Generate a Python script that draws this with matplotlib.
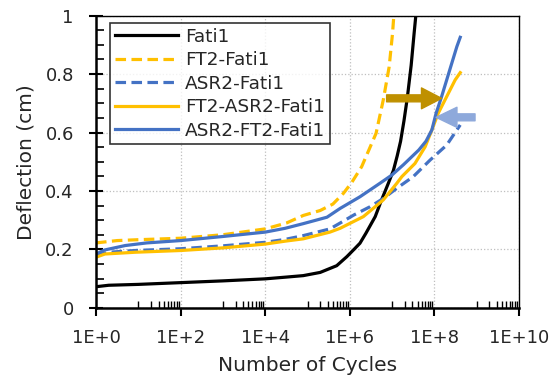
import numpy as np
import matplotlib
matplotlib.use("Agg")
import matplotlib.pyplot as plt
from matplotlib.ticker import FixedLocator, NullFormatter

plt.rcParams['font.family'] = ['DejaVu Sans']

# log10(number of cycles) and deflection (cm)
fati1_logn = [0, 0.3, 1, 2, 3, 4, 4.5, 4.9, 5.3, 5.69, 5.93, 6.1, 6.24, 6.38, 6.60, 6.75, 6.91, 7.03, 7.12, 7.20, 7.28, 7.36, 7.45, 7.52, 7.56]
fati1_def = [0.072, 0.077, 0.080, 0.086, 0.092, 0.099, 0.105, 0.110, 0.121, 0.144, 0.175, 0.200, 0.221, 0.255, 0.312, 0.369, 0.426, 0.470, 0.520, 0.570, 0.640, 0.720, 0.830, 0.940, 1.0]

ft2_logn = [0, 0.5, 1, 2, 3, 4, 4.5, 4.9, 5.3, 5.6, 5.85, 6.05, 6.28, 6.45, 6.62, 6.79, 6.93, 7.01, 7.04]
ft2_def = [0.222, 0.230, 0.233, 0.238, 0.250, 0.270, 0.290, 0.316, 0.333, 0.355, 0.392, 0.430, 0.483, 0.540, 0.597, 0.711, 0.825, 0.940, 1.0]

asr2_logn = [0, 0.3, 0.92, 2, 3, 4, 4.47, 4.9, 5.53, 5.77, 6.1, 6.48, 6.8, 7.11, 7.50, 7.90, 8.29, 8.61]
asr2_def = [0.179, 0.190, 0.196, 0.202, 0.212, 0.224, 0.234, 0.247, 0.270, 0.290, 0.318, 0.346, 0.375, 0.409, 0.449, 0.506, 0.557, 0.626]

ft2_asr2_logn = [0, 0.21, 0.92, 2, 3, 4, 4.47, 4.9, 5.53, 5.77, 6.32, 6.79, 7.11, 7.23, 7.54, 7.78, 7.94, 8.09, 8.29, 8.49, 8.61]
ft2_asr2_def = [0.173, 0.184, 0.190, 0.196, 0.205, 0.218, 0.228, 0.236, 0.259, 0.272, 0.312, 0.369, 0.426, 0.449, 0.494, 0.551, 0.609, 0.666, 0.723, 0.780, 0.805]

asr2_ft2_logn = [0, 0.21, 0.69, 1.2, 2, 3, 4, 4.47, 4.9, 5.46, 5.77, 6.24, 6.71, 7.0, 7.27, 7.63, 7.80, 7.94, 8.04, 8.17, 8.29, 8.41, 8.53, 8.61]
asr2_ft2_def = [0.184, 0.198, 0.213, 0.222, 0.230, 0.244, 0.259, 0.272, 0.288, 0.310, 0.340, 0.380, 0.426, 0.455, 0.490, 0.540, 0.570, 0.609, 0.666, 0.723, 0.780, 0.837, 0.894, 0.926]

x_ticks = [1e0, 1e2, 1e4, 1e6, 1e8, 1e10]
x_labels = ["1E+0", "1E+2", "1E+4", "1E+6", "1E+8", "1E+10"]
y_ticks = [0, 0.2, 0.4, 0.6, 0.8, 1.0]
y_labels = ["0", "0.2", "0.4", "0.6", "0.8", "1"]

BLACK = "black"
GOLD = "#FFC000"
BLUE = "#4472C4"
TEXT = "#262626"

fig = plt.figure(figsize=(5.56, 3.79), dpi=100)
ax = fig.add_axes([0.1727, 0.188, 0.7608, 0.7706])

dash = (0, (3.3, 1.7))
lw = 2.3
ax.plot(np.power(10.0, fati1_logn), fati1_def, color=BLACK, lw=lw, label="Fati1")
ax.plot(np.power(10.0, ft2_logn), ft2_def, color=GOLD, lw=lw, ls=dash, label="FT2-Fati1")
ax.plot(np.power(10.0, asr2_logn), asr2_def, color=BLUE, lw=lw, ls=dash, label="ASR2-Fati1")
ax.plot(np.power(10.0, ft2_asr2_logn), ft2_asr2_def, color=GOLD, lw=lw, label="FT2-ASR2-Fati1")
ax.plot(np.power(10.0, asr2_ft2_logn), asr2_ft2_def, color=BLUE, lw=lw, label="ASR2-FT2-Fati1")

# arrows
ax.annotate("", xy=(10**8.17, 0.717), xytext=(10**6.87, 0.717),
            arrowprops=dict(arrowstyle="simple,head_length=1.45,head_width=1.5,tail_width=0.5",
                            color="#BF9000", shrinkA=0, shrinkB=0, mutation_scale=10))
ax.annotate("", xy=(10**8.04, 0.652), xytext=(10**8.96, 0.652),
            arrowprops=dict(arrowstyle="simple,head_length=1.5,head_width=1.45,tail_width=0.5",
                            color="#8EA9DB", shrinkA=0, shrinkB=0, mutation_scale=10))

ax.set_xscale("log")
ax.set_xlim(1e0, 1e10)
ax.set_ylim(0, 1)

ax.xaxis.set_major_locator(FixedLocator(x_ticks))
ax.set_xticklabels(x_labels)
minor_x = [k * 10.0 ** d for d in (1, 3, 5, 7, 9) for k in range(1, 10)]
ax.xaxis.set_minor_locator(FixedLocator(minor_x))
ax.xaxis.set_minor_formatter(NullFormatter())
ax.set_yticks(y_ticks)
ax.set_yticklabels(y_labels)
ax.yaxis.set_minor_locator(FixedLocator(np.arange(0.05, 1.0, 0.05)))

ax.tick_params(axis="x", which="major", direction="out", length=6, width=1.5, labelsize=13, colors=BLACK, labelcolor=TEXT, pad=9)
ax.tick_params(axis="x", which="minor", direction="in", length=5, width=1.0)
ax.tick_params(axis="y", which="major", direction="inout", length=10, width=1.5, labelsize=13, labelcolor=TEXT, pad=11)
ax.tick_params(axis="y", which="minor", direction="in", length=6, width=1.2)

ax.grid(True, which="major", color="#BFBFBF", ls=":", lw=0.9)
ax.grid(False, which="minor")
for side in ("left", "bottom"):
    ax.spines[side].set_linewidth(1.8)
for side in ("top", "right"):
    ax.spines[side].set_linewidth(1.0)

ax.set_xlabel("Number of Cycles", fontsize=14.5, color=TEXT, labelpad=7)
ax.set_ylabel("Deflection (cm)", fontsize=14.5, color=TEXT, labelpad=7)

leg = ax.legend(loc="upper left", bbox_to_anchor=(0.034, 0.975), fontsize=13.3, frameon=True,
                fancybox=False, handlelength=3.4, handletextpad=0.4, labelspacing=0.3,
                borderpad=0.25, borderaxespad=0)
leg.get_frame().set_edgecolor("black")
leg.get_frame().set_linewidth(1.2)
for t in leg.get_texts():
    t.set_color(TEXT)

fig.savefig("out.png", dpi=100)
